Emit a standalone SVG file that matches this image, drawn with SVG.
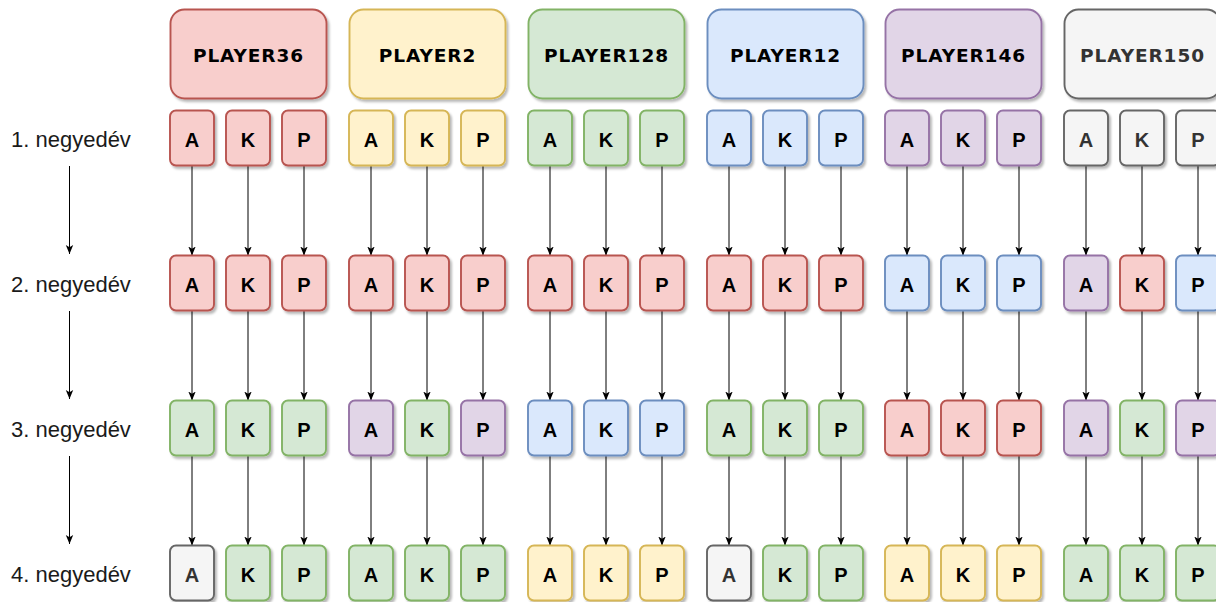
<svg xmlns="http://www.w3.org/2000/svg" width="1216" height="602" viewBox="0 0 1216 602">
<defs>
<filter id="sh" x="-20%" y="-20%" width="150%" height="150%"><feDropShadow dx="2" dy="2.5" stdDeviation="1.2" flood-color="#000" flood-opacity="0.28"/></filter>
<marker id="ah" markerUnits="userSpaceOnUse" markerWidth="10" markerHeight="9" refX="9" refY="4.5" orient="auto"><path d="M0,0.8 L9,4.5 L0,8.2 L2.2,4.5 Z" fill="#000"/></marker>
<style>
rect{stroke-width:1.9;filter:url(#sh)}
.r rect{fill:#f8cecc;stroke:#b85450}
.y rect{fill:#fff2cc;stroke:#d6b656}
.g rect{fill:#d5e8d4;stroke:#82b366}
.b rect{fill:#dae8fc;stroke:#6c8ebf}
.p rect{fill:#e1d5e7;stroke:#9673a6}
.w rect{fill:#f5f5f5;stroke:#666666}
.pl text{font-family:"DejaVu Sans",Verdana,sans-serif;font-weight:bold;font-size:18.5px;letter-spacing:0.9px;text-anchor:middle;fill:#000}
.pl.w text{fill:#333333}
.s text{font-family:"Liberation Sans",Arial,sans-serif;font-weight:bold;font-size:20px;text-anchor:middle;fill:#000}
.s.w text{fill:#333333}
.lbl{font-family:"Liberation Sans",Arial,sans-serif;font-size:22px;fill:#1a1a1a}
#connectors line{stroke:#000;stroke-width:1;marker-end:url(#ah)}
</style>
</defs>
<rect width="1216" height="602" fill="#fff" style="filter:none;stroke:none"/>

<g id="labels">
<text id="q1" class="lbl" x="11" y="147">1. negyedév</text>
<text id="q2" class="lbl" x="11" y="292">2. negyedév</text>
<text id="q3" class="lbl" x="11" y="437">3. negyedév</text>
<text id="q4" class="lbl" x="11" y="582">4. negyedév</text>
</g>

<g id="connectors">
<line x1="69.5" y1="166" x2="69.5" y2="254"/>
<line x1="69.5" y1="311" x2="69.5" y2="399"/>
<line x1="69.5" y1="456" x2="69.5" y2="544"/>
<line x1="192" y1="165.5" x2="192" y2="255.5"/><line x1="192" y1="310.5" x2="192" y2="400.5"/><line x1="192" y1="455.5" x2="192" y2="545.5"/>
<line x1="248" y1="165.5" x2="248" y2="255.5"/><line x1="248" y1="310.5" x2="248" y2="400.5"/><line x1="248" y1="455.5" x2="248" y2="545.5"/>
<line x1="304" y1="165.5" x2="304" y2="255.5"/><line x1="304" y1="310.5" x2="304" y2="400.5"/><line x1="304" y1="455.5" x2="304" y2="545.5"/>
<line x1="371" y1="165.5" x2="371" y2="255.5"/><line x1="371" y1="310.5" x2="371" y2="400.5"/><line x1="371" y1="455.5" x2="371" y2="545.5"/>
<line x1="427" y1="165.5" x2="427" y2="255.5"/><line x1="427" y1="310.5" x2="427" y2="400.5"/><line x1="427" y1="455.5" x2="427" y2="545.5"/>
<line x1="483" y1="165.5" x2="483" y2="255.5"/><line x1="483" y1="310.5" x2="483" y2="400.5"/><line x1="483" y1="455.5" x2="483" y2="545.5"/>
<line x1="550" y1="165.5" x2="550" y2="255.5"/><line x1="550" y1="310.5" x2="550" y2="400.5"/><line x1="550" y1="455.5" x2="550" y2="545.5"/>
<line x1="606" y1="165.5" x2="606" y2="255.5"/><line x1="606" y1="310.5" x2="606" y2="400.5"/><line x1="606" y1="455.5" x2="606" y2="545.5"/>
<line x1="662" y1="165.5" x2="662" y2="255.5"/><line x1="662" y1="310.5" x2="662" y2="400.5"/><line x1="662" y1="455.5" x2="662" y2="545.5"/>
<line x1="729" y1="165.5" x2="729" y2="255.5"/><line x1="729" y1="310.5" x2="729" y2="400.5"/><line x1="729" y1="455.5" x2="729" y2="545.5"/>
<line x1="785" y1="165.5" x2="785" y2="255.5"/><line x1="785" y1="310.5" x2="785" y2="400.5"/><line x1="785" y1="455.5" x2="785" y2="545.5"/>
<line x1="841" y1="165.5" x2="841" y2="255.5"/><line x1="841" y1="310.5" x2="841" y2="400.5"/><line x1="841" y1="455.5" x2="841" y2="545.5"/>
<line x1="907" y1="165.5" x2="907" y2="255.5"/><line x1="907" y1="310.5" x2="907" y2="400.5"/><line x1="907" y1="455.5" x2="907" y2="545.5"/>
<line x1="963" y1="165.5" x2="963" y2="255.5"/><line x1="963" y1="310.5" x2="963" y2="400.5"/><line x1="963" y1="455.5" x2="963" y2="545.5"/>
<line x1="1019" y1="165.5" x2="1019" y2="255.5"/><line x1="1019" y1="310.5" x2="1019" y2="400.5"/><line x1="1019" y1="455.5" x2="1019" y2="545.5"/>
<line x1="1086" y1="165.5" x2="1086" y2="255.5"/><line x1="1086" y1="310.5" x2="1086" y2="400.5"/><line x1="1086" y1="455.5" x2="1086" y2="545.5"/>
<line x1="1142" y1="165.5" x2="1142" y2="255.5"/><line x1="1142" y1="310.5" x2="1142" y2="400.5"/><line x1="1142" y1="455.5" x2="1142" y2="545.5"/>
<line x1="1198" y1="165.5" x2="1198" y2="255.5"/><line x1="1198" y1="310.5" x2="1198" y2="400.5"/><line x1="1198" y1="455.5" x2="1198" y2="545.5"/>
</g>

<g id="player36" class="pl r"><rect x="170.5" y="9.5" width="156" height="89" rx="14"/><text x="248.5" y="61.5">PLAYER36</text></g>
<g id="player2" class="pl y"><rect x="349.5" y="9.5" width="156" height="89" rx="14"/><text x="427.5" y="61.5">PLAYER2</text></g>
<g id="player128" class="pl g"><rect x="528.5" y="9.5" width="156" height="89" rx="14"/><text x="606.5" y="61.5">PLAYER128</text></g>
<g id="player12" class="pl b"><rect x="707.5" y="9.5" width="156" height="89" rx="14"/><text x="785.5" y="61.5">PLAYER12</text></g>
<g id="player146" class="pl p"><rect x="885.5" y="9.5" width="156" height="89" rx="14"/><text x="963.5" y="61.5">PLAYER146</text></g>
<g id="player150" class="pl w"><rect x="1064.5" y="9.5" width="156" height="89" rx="14"/><text x="1142.5" y="61.5">PLAYER150</text></g>

<!-- Row 1 -->
<g id="p36_q1_A" class="s r"><rect x="170" y="110.5" width="44" height="55" rx="6"/><text x="192" y="146.5">A</text></g>
<g id="p36_q1_K" class="s r"><rect x="226" y="110.5" width="44" height="55" rx="6"/><text x="248" y="146.5">K</text></g>
<g id="p36_q1_P" class="s r"><rect x="282" y="110.5" width="44" height="55" rx="6"/><text x="304" y="146.5">P</text></g>
<g id="p2_q1_A" class="s y"><rect x="349" y="110.5" width="44" height="55" rx="6"/><text x="371" y="146.5">A</text></g>
<g id="p2_q1_K" class="s y"><rect x="405" y="110.5" width="44" height="55" rx="6"/><text x="427" y="146.5">K</text></g>
<g id="p2_q1_P" class="s y"><rect x="461" y="110.5" width="44" height="55" rx="6"/><text x="483" y="146.5">P</text></g>
<g id="p128_q1_A" class="s g"><rect x="528" y="110.5" width="44" height="55" rx="6"/><text x="550" y="146.5">A</text></g>
<g id="p128_q1_K" class="s g"><rect x="584" y="110.5" width="44" height="55" rx="6"/><text x="606" y="146.5">K</text></g>
<g id="p128_q1_P" class="s g"><rect x="640" y="110.5" width="44" height="55" rx="6"/><text x="662" y="146.5">P</text></g>
<g id="p12_q1_A" class="s b"><rect x="707" y="110.5" width="44" height="55" rx="6"/><text x="729" y="146.5">A</text></g>
<g id="p12_q1_K" class="s b"><rect x="763" y="110.5" width="44" height="55" rx="6"/><text x="785" y="146.5">K</text></g>
<g id="p12_q1_P" class="s b"><rect x="819" y="110.5" width="44" height="55" rx="6"/><text x="841" y="146.5">P</text></g>
<g id="p146_q1_A" class="s p"><rect x="885" y="110.5" width="44" height="55" rx="6"/><text x="907" y="146.5">A</text></g>
<g id="p146_q1_K" class="s p"><rect x="941" y="110.5" width="44" height="55" rx="6"/><text x="963" y="146.5">K</text></g>
<g id="p146_q1_P" class="s p"><rect x="997" y="110.5" width="44" height="55" rx="6"/><text x="1019" y="146.5">P</text></g>
<g id="p150_q1_A" class="s w"><rect x="1064" y="110.5" width="44" height="55" rx="6"/><text x="1086" y="146.5">A</text></g>
<g id="p150_q1_K" class="s w"><rect x="1120" y="110.5" width="44" height="55" rx="6"/><text x="1142" y="146.5">K</text></g>
<g id="p150_q1_P" class="s w"><rect x="1176" y="110.5" width="44" height="55" rx="6"/><text x="1198" y="146.5">P</text></g>

<!-- Row 2 -->
<g id="p36_q2_A" class="s r"><rect x="170" y="255.5" width="44" height="55" rx="6"/><text x="192" y="291.5">A</text></g>
<g id="p36_q2_K" class="s r"><rect x="226" y="255.5" width="44" height="55" rx="6"/><text x="248" y="291.5">K</text></g>
<g id="p36_q2_P" class="s r"><rect x="282" y="255.5" width="44" height="55" rx="6"/><text x="304" y="291.5">P</text></g>
<g id="p2_q2_A" class="s r"><rect x="349" y="255.5" width="44" height="55" rx="6"/><text x="371" y="291.5">A</text></g>
<g id="p2_q2_K" class="s r"><rect x="405" y="255.5" width="44" height="55" rx="6"/><text x="427" y="291.5">K</text></g>
<g id="p2_q2_P" class="s r"><rect x="461" y="255.5" width="44" height="55" rx="6"/><text x="483" y="291.5">P</text></g>
<g id="p128_q2_A" class="s r"><rect x="528" y="255.5" width="44" height="55" rx="6"/><text x="550" y="291.5">A</text></g>
<g id="p128_q2_K" class="s r"><rect x="584" y="255.5" width="44" height="55" rx="6"/><text x="606" y="291.5">K</text></g>
<g id="p128_q2_P" class="s r"><rect x="640" y="255.5" width="44" height="55" rx="6"/><text x="662" y="291.5">P</text></g>
<g id="p12_q2_A" class="s r"><rect x="707" y="255.5" width="44" height="55" rx="6"/><text x="729" y="291.5">A</text></g>
<g id="p12_q2_K" class="s r"><rect x="763" y="255.5" width="44" height="55" rx="6"/><text x="785" y="291.5">K</text></g>
<g id="p12_q2_P" class="s r"><rect x="819" y="255.5" width="44" height="55" rx="6"/><text x="841" y="291.5">P</text></g>
<g id="p146_q2_A" class="s b"><rect x="885" y="255.5" width="44" height="55" rx="6"/><text x="907" y="291.5">A</text></g>
<g id="p146_q2_K" class="s b"><rect x="941" y="255.5" width="44" height="55" rx="6"/><text x="963" y="291.5">K</text></g>
<g id="p146_q2_P" class="s b"><rect x="997" y="255.5" width="44" height="55" rx="6"/><text x="1019" y="291.5">P</text></g>
<g id="p150_q2_A" class="s p"><rect x="1064" y="255.5" width="44" height="55" rx="6"/><text x="1086" y="291.5">A</text></g>
<g id="p150_q2_K" class="s r"><rect x="1120" y="255.5" width="44" height="55" rx="6"/><text x="1142" y="291.5">K</text></g>
<g id="p150_q2_P" class="s b"><rect x="1176" y="255.5" width="44" height="55" rx="6"/><text x="1198" y="291.5">P</text></g>

<!-- Row 3 -->
<g id="p36_q3_A" class="s g"><rect x="170" y="400.5" width="44" height="55" rx="6"/><text x="192" y="436.5">A</text></g>
<g id="p36_q3_K" class="s g"><rect x="226" y="400.5" width="44" height="55" rx="6"/><text x="248" y="436.5">K</text></g>
<g id="p36_q3_P" class="s g"><rect x="282" y="400.5" width="44" height="55" rx="6"/><text x="304" y="436.5">P</text></g>
<g id="p2_q3_A" class="s p"><rect x="349" y="400.5" width="44" height="55" rx="6"/><text x="371" y="436.5">A</text></g>
<g id="p2_q3_K" class="s g"><rect x="405" y="400.5" width="44" height="55" rx="6"/><text x="427" y="436.5">K</text></g>
<g id="p2_q3_P" class="s p"><rect x="461" y="400.5" width="44" height="55" rx="6"/><text x="483" y="436.5">P</text></g>
<g id="p128_q3_A" class="s b"><rect x="528" y="400.5" width="44" height="55" rx="6"/><text x="550" y="436.5">A</text></g>
<g id="p128_q3_K" class="s b"><rect x="584" y="400.5" width="44" height="55" rx="6"/><text x="606" y="436.5">K</text></g>
<g id="p128_q3_P" class="s b"><rect x="640" y="400.5" width="44" height="55" rx="6"/><text x="662" y="436.5">P</text></g>
<g id="p12_q3_A" class="s g"><rect x="707" y="400.5" width="44" height="55" rx="6"/><text x="729" y="436.5">A</text></g>
<g id="p12_q3_K" class="s g"><rect x="763" y="400.5" width="44" height="55" rx="6"/><text x="785" y="436.5">K</text></g>
<g id="p12_q3_P" class="s g"><rect x="819" y="400.5" width="44" height="55" rx="6"/><text x="841" y="436.5">P</text></g>
<g id="p146_q3_A" class="s r"><rect x="885" y="400.5" width="44" height="55" rx="6"/><text x="907" y="436.5">A</text></g>
<g id="p146_q3_K" class="s r"><rect x="941" y="400.5" width="44" height="55" rx="6"/><text x="963" y="436.5">K</text></g>
<g id="p146_q3_P" class="s r"><rect x="997" y="400.5" width="44" height="55" rx="6"/><text x="1019" y="436.5">P</text></g>
<g id="p150_q3_A" class="s p"><rect x="1064" y="400.5" width="44" height="55" rx="6"/><text x="1086" y="436.5">A</text></g>
<g id="p150_q3_K" class="s g"><rect x="1120" y="400.5" width="44" height="55" rx="6"/><text x="1142" y="436.5">K</text></g>
<g id="p150_q3_P" class="s p"><rect x="1176" y="400.5" width="44" height="55" rx="6"/><text x="1198" y="436.5">P</text></g>

<!-- Row 4 -->
<g id="p36_q4_A" class="s w"><rect x="170" y="545.5" width="44" height="55" rx="6"/><text x="192" y="581.5">A</text></g>
<g id="p36_q4_K" class="s g"><rect x="226" y="545.5" width="44" height="55" rx="6"/><text x="248" y="581.5">K</text></g>
<g id="p36_q4_P" class="s g"><rect x="282" y="545.5" width="44" height="55" rx="6"/><text x="304" y="581.5">P</text></g>
<g id="p2_q4_A" class="s g"><rect x="349" y="545.5" width="44" height="55" rx="6"/><text x="371" y="581.5">A</text></g>
<g id="p2_q4_K" class="s g"><rect x="405" y="545.5" width="44" height="55" rx="6"/><text x="427" y="581.5">K</text></g>
<g id="p2_q4_P" class="s g"><rect x="461" y="545.5" width="44" height="55" rx="6"/><text x="483" y="581.5">P</text></g>
<g id="p128_q4_A" class="s y"><rect x="528" y="545.5" width="44" height="55" rx="6"/><text x="550" y="581.5">A</text></g>
<g id="p128_q4_K" class="s y"><rect x="584" y="545.5" width="44" height="55" rx="6"/><text x="606" y="581.5">K</text></g>
<g id="p128_q4_P" class="s y"><rect x="640" y="545.5" width="44" height="55" rx="6"/><text x="662" y="581.5">P</text></g>
<g id="p12_q4_A" class="s w"><rect x="707" y="545.5" width="44" height="55" rx="6"/><text x="729" y="581.5">A</text></g>
<g id="p12_q4_K" class="s g"><rect x="763" y="545.5" width="44" height="55" rx="6"/><text x="785" y="581.5">K</text></g>
<g id="p12_q4_P" class="s g"><rect x="819" y="545.5" width="44" height="55" rx="6"/><text x="841" y="581.5">P</text></g>
<g id="p146_q4_A" class="s y"><rect x="885" y="545.5" width="44" height="55" rx="6"/><text x="907" y="581.5">A</text></g>
<g id="p146_q4_K" class="s y"><rect x="941" y="545.5" width="44" height="55" rx="6"/><text x="963" y="581.5">K</text></g>
<g id="p146_q4_P" class="s y"><rect x="997" y="545.5" width="44" height="55" rx="6"/><text x="1019" y="581.5">P</text></g>
<g id="p150_q4_A" class="s g"><rect x="1064" y="545.5" width="44" height="55" rx="6"/><text x="1086" y="581.5">A</text></g>
<g id="p150_q4_K" class="s g"><rect x="1120" y="545.5" width="44" height="55" rx="6"/><text x="1142" y="581.5">K</text></g>
<g id="p150_q4_P" class="s g"><rect x="1176" y="545.5" width="44" height="55" rx="6"/><text x="1198" y="581.5">P</text></g>
</svg>
